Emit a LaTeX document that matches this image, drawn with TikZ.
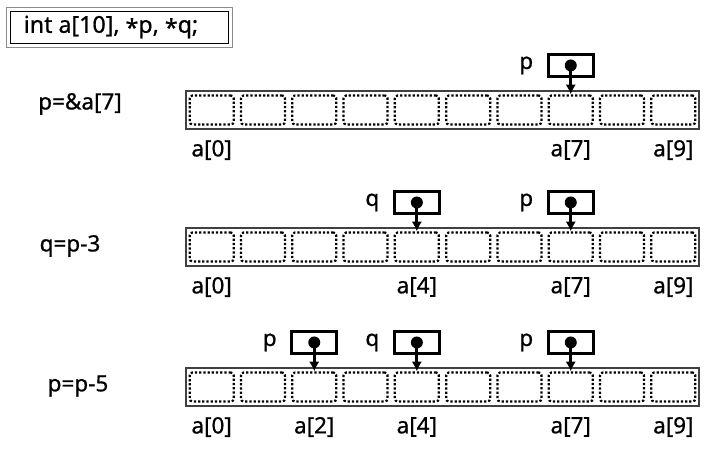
\documentclass[tikz,border=0pt]{standalone}
\usepackage{fontspec}
\setmainfont[FakeBold=0.8]{Noto Sans}
\usepackage{xcolor}
\usetikzlibrary{arrows.meta, positioning}

\tikzset{
  txt/.style={font=\fontsize{16}{19}\selectfont, inner sep=1pt},
  cell/.style={draw, line width=1.6pt, dash pattern=on 1.6pt off 1.4pt,
               rounded corners=2pt, minimum width=1.1cm, minimum height=0.725cm},
  arrframe/.style={draw=black!75, line width=0.75pt},
  ptrbox/.style={draw, line width=2.1pt, minimum width=1.12cm, minimum height=0.55cm},
  ptrdot/.style={circle, fill=black, inner sep=0pt, minimum size=0.3cm},
  ptrarrow/.style={line width=2pt, -{Latex[length=7pt,width=7.5pt]}}
}

\begin{document}
\begin{tikzpicture}[x=0.025cm, y=-0.025cm]
  \useasboundingbox (0,0) rectangle (712,451);

  % declaration
  \node[draw=black!45, line width=0.7pt, minimum width=5.625cm, minimum height=0.975cm] (declout) at (119.5,27.5) {};
  \node[draw, line width=0.9pt, minimum width=5.45cm, minimum height=0.8cm] (declin) at (declout.center) {};
  \node[txt, font=\fontsize{16.5}{19}\selectfont] (decl) at (111,27) {int a[10], \raisebox{-0.25ex}{*}p, \raisebox{-0.25ex}{*}q;};

  % Row 1: p=&a[7]
  \node[txt] (stmt1) at (80,104) {p=\&a[7]};
  \draw[arrframe] (186,91) rectangle (699,129);
  \foreach \i in {0,...,9}
    \node[cell] (r1c\i) at ({186+51.3*(\i+0.5)},110) {};
  \node[ptrbox, above=0.41cm of r1c7] (p1) {};
  \node[txt, left=0.3cm of p1] (p1lbl) {p};
  \node[ptrdot] (p1dot) at (p1.center) {};
  \draw[ptrarrow] (p1dot.center) -- (r1c7.north);
  \foreach \i in {0,7,9}
    \node[txt] (r1i\i) at ([yshift=-1cm]r1c\i.center) {a[\i]};

  % Row 2: q=p-3
  \node[txt] (stmt2) at (70,246) {q=p-3};
  \draw[arrframe] (186,228) rectangle (699,266);
  \foreach \i in {0,...,9}
    \node[cell] (r2c\i) at ({186+51.3*(\i+0.5)},247) {};
  \node[ptrbox, above=0.41cm of r2c4] (q2) {};
  \node[txt, left=0.3cm of q2] (q2lbl) {q};
  \node[ptrdot] (q2dot) at (q2.center) {};
  \draw[ptrarrow] (q2dot.center) -- (r2c4.north);
  \node[ptrbox, above=0.41cm of r2c7] (p2) {};
  \node[txt, left=0.3cm of p2] (p2lbl) {p};
  \node[ptrdot] (p2dot) at (p2.center) {};
  \draw[ptrarrow] (p2dot.center) -- (r2c7.north);
  \foreach \i in {0,4,7,9}
    \node[txt] (r2i\i) at ([yshift=-1cm]r2c\i.center) {a[\i]};

  % Row 3: p=p-5
  \node[txt] (stmt3) at (78,386) {p=p-5};
  \draw[arrframe] (186,368) rectangle (699,406);
  \foreach \i in {0,...,9}
    \node[cell] (r3c\i) at ({186+51.3*(\i+0.5)},387) {};
  \node[ptrbox, above=0.41cm of r3c2] (p3) {};
  \node[txt, left=0.3cm of p3] (p3lbl) {p};
  \node[ptrdot] (p3dot) at (p3.center) {};
  \draw[ptrarrow] (p3dot.center) -- (r3c2.north);
  \node[ptrbox, above=0.41cm of r3c4] (q3) {};
  \node[txt, left=0.3cm of q3] (q3lbl) {q};
  \node[ptrdot] (q3dot) at (q3.center) {};
  \draw[ptrarrow] (q3dot.center) -- (r3c4.north);
  \node[ptrbox, above=0.41cm of r3c7] (p3b) {};
  \node[txt, left=0.3cm of p3b] (p3blbl) {p};
  \node[ptrdot] (p3bdot) at (p3b.center) {};
  \draw[ptrarrow] (p3bdot.center) -- (r3c7.north);
  \foreach \i in {0,2,4,7,9}
    \node[txt] (r3i\i) at ([yshift=-1cm]r3c\i.center) {a[\i]};
\end{tikzpicture}
\end{document}
